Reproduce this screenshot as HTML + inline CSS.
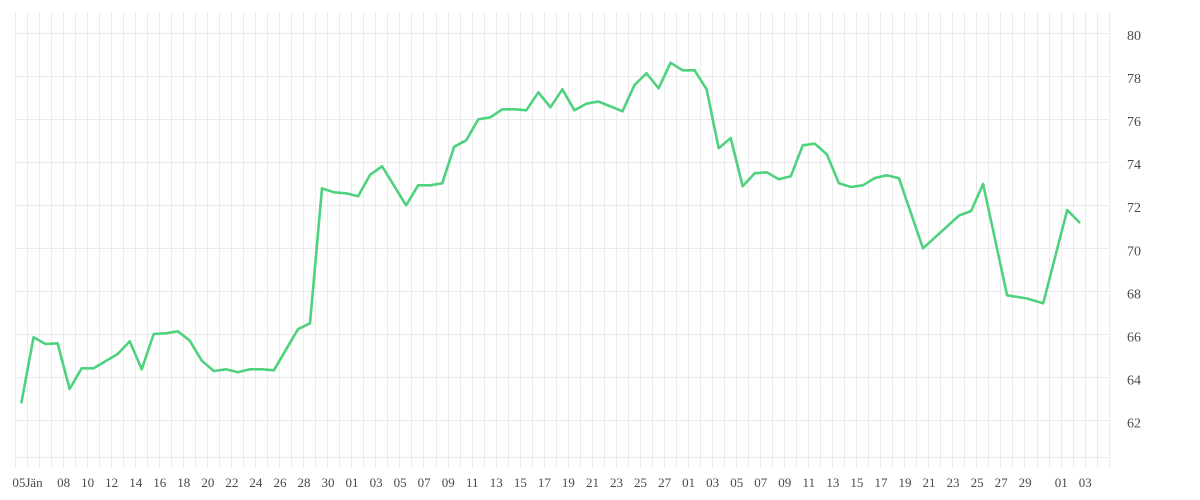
<!DOCTYPE html>
<html><head><meta charset="utf-8"><style>
html,body{margin:0;padding:0;background:#fff;}
svg{display:block;}
text{font-family:"Liberation Serif","DejaVu Serif",serif;fill:#4a4a4a;}
</style></head><body>
<svg id="c" width="1200" height="500" viewBox="0 0 1200 500" xmlns="http://www.w3.org/2000/svg">
<g id="grid" stroke="#ebebeb" stroke-width="1" fill="none" shape-rendering="crispEdges"></g>
<g id="xl" font-size="13" text-anchor="middle"></g>
<g id="yl" font-size="14"></g>
<polyline id="ln" fill="none" stroke="#4fd27e" stroke-width="2.6" stroke-linejoin="round" stroke-linecap="round" points="
21.5,402.3 33.5,337.3 45.5,344 57.6,343.3 69.6,389 81.6,368.3 93.6,368.3 117.7,354 129.7,341.3 141.7,369.3 153.7,334 165.7,333.3 177.8,331.3 189.8,340.7 201.8,360.7 213.8,371 225.8,369.3 237.9,372.3 249.9,369.3 261.9,369.3 273.9,370.3 298,329.2 310,323.3 322,188.3 334,192.3 346,193.3 358.1,196.3 370.1,174.7 382.1,166.3 406.1,205.3 418.2,185.3 430.2,185.3 442.2,183.3 454.2,146.7 466.2,140.3 478.3,119.3 490.3,117.3 502.3,109.3 514.3,109.3 526.3,110.3 538.4,92.3 550.4,107.3 562.4,89.3 574.4,110.3 586.4,103.7 598.5,101.5 622.5,111.3 634.5,85 646.5,73.3 658.6,88.3 670.6,62.7 682.6,70.3 694.6,70.3 706.6,89.3 718.7,148.3 730.7,138 742.7,186.3 754.7,173.3 766.7,172.3 778.8,179.3 790.8,176.3 802.8,145.3 814.8,143.7 826.8,154.3 838.9,183.3 850.9,187 862.9,185.3 874.9,178 886.9,175.3 899,178.3 923,248.3 959.1,215.5 971.1,211 983.1,184 1007.1,295.3 1027,298.5 1043.2,303.3 1067.2,210 1079.3,222.3"/>
</svg>
<script>
(function(){
var NS="http://www.w3.org/2000/svg";
var g=document.getElementById('grid'),xl=document.getElementById('xl'),yl=document.getElementById('yl');
function el(p,tag,a,t){var e=document.createElementNS(NS,tag);for(var k in a)e.setAttribute(k,a[k]);if(t!=null)e.textContent=t;p.appendChild(e);return e;}
var x0=15.3,dx=12.02;
for(var k=0;k<=91;k++){var x=Math.floor(x0+dx*k)+0.5;el(g,'line',{x1:x,y1:12,x2:x,y2:468});}
for(var v=62;v<=80;v+=2){var yy=33.3+(80-v)*21.53;var y=Math.floor(yy)+0.5;el(g,'line',{x1:15,y1:y,x2:1110,y2:y});
 el(yl,'text',{x:1127,y:yy+6.7},String(v));}
el(g,'line',{x1:15,y1:457.5,x2:1110,y2:457.5});
var labs=[[1,'05Jän']];
var jan=[8,10,12,14,16,18,20,22,24,26,28,30];
jan.forEach(function(d){labs.push([d-4,(d<10?'0':'')+d]);});
for(var d=1;d<=27;d+=2){labs.push([27+d,(d<10?'0':'')+d]);}
for(var d=1;d<=29;d+=2){labs.push([55+d,(d<10?'0':'')+d]);}
labs.push([87,'01']);labs.push([89,'03']);
labs.forEach(function(l){el(xl,'text',{x:15.5+dx*l[0],y:487},l[1]);});
})();
</script>
</body></html>
